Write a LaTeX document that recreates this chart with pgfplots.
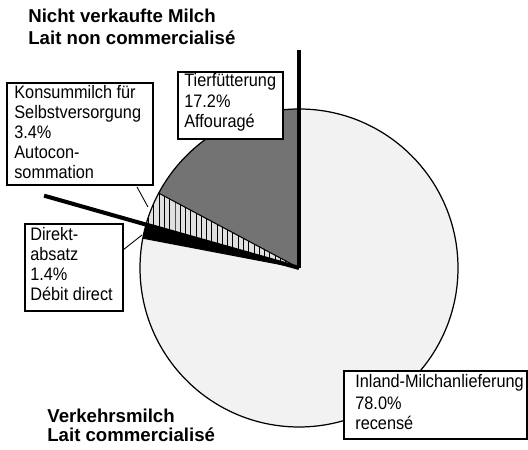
\documentclass[border=0pt]{standalone}
\usepackage{fontspec}
\setmainfont{Liberation Sans}
\newfontfamily\labfont{Liberation Sans}[FakeStretch=0.9]
\usepackage{pgfplots}
\pgfplotsset{compat=1.18}
\usetikzlibrary{patterns}

\newcommand\lab{\labfont\fontsize{10.3}{11}\selectfont}
\newcommand\ttl{\fontsize{10.6}{12}\selectfont\bfseries}

\tikzset{
  tier/.style={fill=black!55},
  konsum/.style={fill=black!12, postaction={pattern=vertical lines}},
  direkt/.style={fill=black},
  inland/.style={fill=black!5},
}

\begin{document}
\begin{tikzpicture}
\begin{axis}[scale only axis, width=10.56cm, height=9cm,
  xmin=0, xmax=528, ymin=0, ymax=450, y dir=reverse,
  hide axis, clip=false]
\path (axis cs:0,0) (axis cs:528,450);
% pie: shares in percent, counterclockwise from 90 degrees
\pgfplotsextra{
  \def\R{3.18cm}
  \xdef\a{90}
  \foreach \v/\s in {17.2/tier, 3.4/konsum, 1.4/direkt, 78.0/inland} {
    \pgfmathsetmacro\b{\a+3.6*\v}
    \fill[\s] (axis cs:299,268) -- ++(\a:\R) arc[start angle=\a, end angle=\b, radius=\R] -- cycle;
    \draw[line width=0.6pt] (axis cs:299,268) -- ++(\a:\R);
    \xdef\a{\b}
  }
  \draw[line width=0.7pt] (axis cs:299,268) circle[radius=\R];
  % separators
  \draw[line width=2.3pt] (axis cs:299,268) -- ++(90:4.36cm);
  \draw[line width=2.3pt] (axis cs:299,268) -- ++(164.16:5.3cm);
  % leader lines
  \draw[line width=0.5pt] (axis cs:137,187) -- (axis cs:148,207);
  \draw[line width=0.5pt] (axis cs:123,250) -- (axis cs:142,235);
  % boxes
  \draw[fill=white, line width=0.6pt] (axis cs:7,83) rectangle (axis cs:153,185);
  \draw[fill=white, line width=0.6pt] (axis cs:178,72) rectangle (axis cs:283,139);
  \draw[fill=white, line width=0.6pt] (axis cs:25,224) rectangle (axis cs:123,311);
  \draw[fill=white, line width=0.6pt] (axis cs:344,371) rectangle (axis cs:527,439);
}
\tikzset{every node/.style={anchor=base west, inner sep=0pt}}
\node[font=\ttl] at (axis cs:28,23) {Nicht verkaufte Milch};
\node[font=\ttl] at (axis cs:28,45) {Lait non commercialisé};
\node[font=\ttl] at (axis cs:47,423) {Verkehrsmilch};
\node[font=\ttl] at (axis cs:47,442) {Lait commercialisé};

\node[font=\lab] at (axis cs:14,99) {Konsummilch für};
\node[font=\lab] at (axis cs:14,119) {Selbstversorgung};
\node[font=\lab] at (axis cs:14,139) {3.4\%};
\node[font=\lab] at (axis cs:14,159) {Autocon-};
\node[font=\lab] at (axis cs:14,179) {sommation};

\node[font=\lab] at (axis cs:184,87) {Tierfütterung};
\node[font=\lab] at (axis cs:184,108) {17.2\%};
\node[font=\lab] at (axis cs:184,128) {Affouragé};

\node[font=\lab] at (axis cs:30,241) {Direkt-};
\node[font=\lab] at (axis cs:30,261) {absatz};
\node[font=\lab] at (axis cs:30,281) {1.4\%};
\node[font=\lab] at (axis cs:30,301) {Débit direct};

\node[font=\lab] at (axis cs:355,388) {Inland-Milchanlieferung};
\node[font=\lab] at (axis cs:355,410) {78.0\%};
\node[font=\lab] at (axis cs:355,430) {recensé};
\end{axis}
\end{tikzpicture}
\end{document}
